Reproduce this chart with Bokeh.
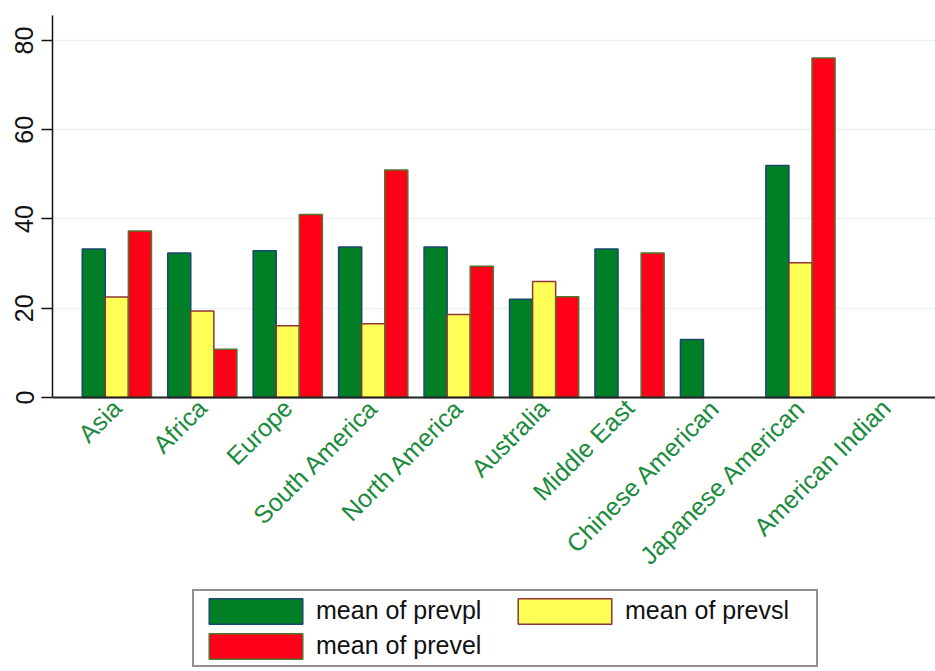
import numpy as np
from math import pi
from bokeh.plotting import figure
from bokeh.models import (ColumnDataSource, Range1d, FixedTicker, Legend,
                          LegendItem, Span)
from bokeh.core.properties import value
from bokeh.transform import dodge
from bokeh.embed import file_html
from bokeh.resources import INLINE

nan = float("nan")

categories = ["Asia", "Africa", "Europe", "South America", "North America",
              "Australia", "Middle East", "Chinese American",
              "Japanese American", "American Indian"]
prevpl = [33.3, 32.4, 32.9, 33.7, 33.7, 22.0, 33.3, 13.0, 52.0, nan]
prevsl = [22.5, 19.4, 16.1, 16.5, 18.6, 26.0, nan, nan, 30.2, nan]
prevel = [37.3, 10.8, 41.0, 51.0, 29.4, 22.6, 32.4, nan, 76.1, nan]
y_ticks = [0, 20, 40, 60, 80]
series_labels = ["mean of prevpl", "mean of prevsl", "mean of prevel"]

FONT = "Liberation Sans"

# layout constants (pixels)
W, H = 935, 671
TOP, LEFT = 15, 52
ZERO_PX = 397                      # pixel row of the value 0
Y_TOP = 85.6                       # value at the top of the axis
px_per_unit = (ZERO_PX - TOP) / Y_TOP
y_bottom = -(H - ZERO_PX) / px_per_unit

xpos = list(range(len(categories)))
src = ColumnDataSource(data=dict(x=xpos, prevpl=np.array(prevpl),
                                 prevsl=np.array(prevsl), prevel=np.array(prevel)))

p = figure(width=W, height=H,
           x_range=Range1d(-0.753, 9.58), y_range=Range1d(y_bottom, Y_TOP),
           output_backend="svg", toolbar_location=None, x_axis_location=None,
           min_border_left=LEFT, min_border_top=TOP, min_border_right=0,
           min_border_bottom=0)
p.outline_line_color = None
p.background_fill_color = "white"
p.border_fill_color = "white"

bw = 0.27
fills = ["#007f26", "#ffff55", "#ff0019"]
lines = ["#1a476f", "#90353b", "#55752f"]
offsets = [-bw, 0.0, bw]
cols = ["prevpl", "prevsl", "prevel"]
rs = []
for c, off, fc, lc in zip(cols, offsets, fills, lines):
    r = p.vbar(x=dodge("x", off), top=c, bottom=0, width=bw, source=src,
               fill_color=fc, line_color=lc, line_width=1.5)
    rs.append(r)

# baseline (x axis line)
p.add_layout(Span(location=0, dimension="width", line_color="#222222",
                  line_width=2))

# category labels, rotated 45 degrees under each group
lab_src = ColumnDataSource(data=dict(x=xpos, y=[-6 / px_per_unit] * len(xpos),
                                     text=categories))
p.text(x="x", y="y", text="text", source=lab_src, angle=pi / 4,
       text_align="right", text_baseline="middle",
       text_font=value(FONT), text_font_size=value("25px"),
       text_color="#1a8a3c")
p.xgrid.grid_line_color = None

# y axis
p.yaxis.ticker = FixedTicker(ticks=y_ticks)
p.yaxis.bounds = (0, Y_TOP)
p.yaxis.major_label_orientation = "vertical"
p.yaxis.major_label_text_font = FONT
p.yaxis.major_label_text_font_size = "25px"
p.yaxis.major_label_text_color = "#111111"
p.yaxis.major_tick_out = 11
p.yaxis.major_tick_in = 0
p.yaxis.major_tick_line_width = 1.5
p.yaxis.major_tick_line_color = "#111111"
p.yaxis.minor_tick_line_color = None
p.yaxis.axis_line_color = "#111111"
p.yaxis.axis_line_width = 1.5
p.yaxis.major_label_standoff = 8
p.ygrid.ticker = FixedTicker(ticks=y_ticks)
p.ygrid.grid_line_color = "#eaf2f3"
p.ygrid.grid_line_width = 1.5

legend_h = 3 * 2 + 33 + 2 + 33
legend = Legend(items=[LegendItem(label=l, renderers=[r]) for l, r in zip(series_labels, rs)],
                orientation="horizontal", ncols=2,
                location=(192 - LEFT, H - 593 - legend_h),
                glyph_width=117, glyph_height=32, label_standoff=2,
                label_width=188, label_height=33, spacing=2, padding=3, margin=0,
                label_text_font=FONT, label_text_font_size="25px",
                label_text_color="#111111",
                border_line_color="#222222", border_line_width=2,
                background_fill_color="white", background_fill_alpha=1.0)
p.add_layout(legend)

open("out.html", "w").write(file_html(p, INLINE))
